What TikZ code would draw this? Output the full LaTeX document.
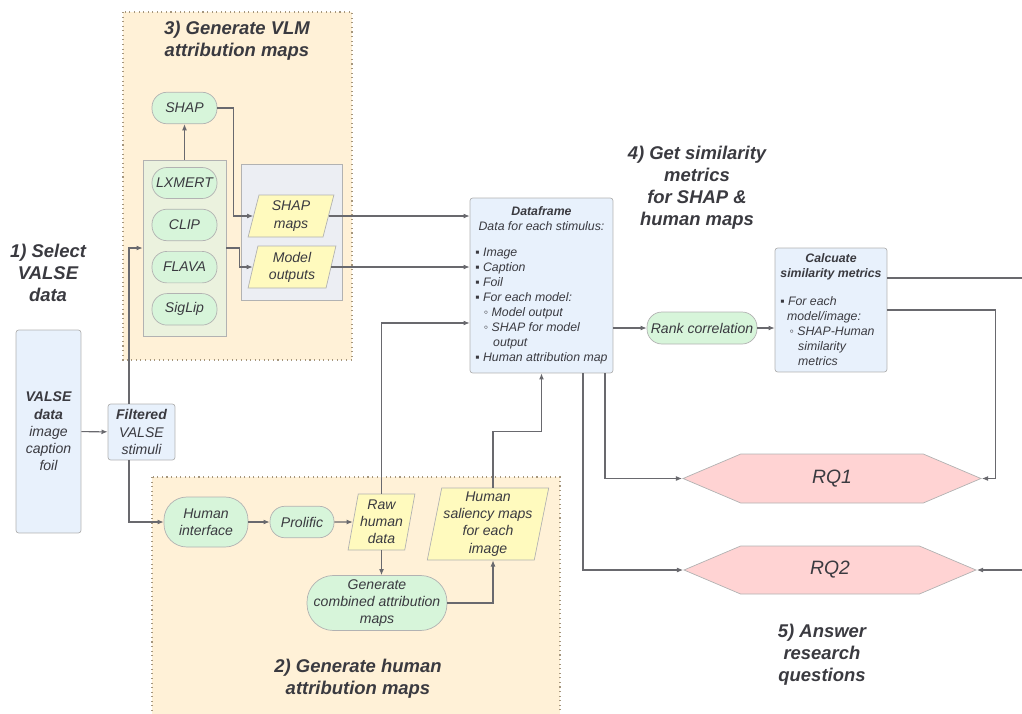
\documentclass[tikz,border=0pt]{standalone}
\usepackage{fontspec}
\setmainfont{Liberation Sans}
\usepackage{tikz}
\usetikzlibrary{positioning}
\usetikzlibrary{arrows.meta}
\usetikzlibrary{shapes.geometric,shapes.symbols}
\usepackage{xcolor}

\definecolor{ink}{RGB}{58,58,64}
\definecolor{lnc}{RGB}{105,105,110}
\definecolor{zonefill}{RGB}{255,241,215}
\definecolor{zoneline}{RGB}{165,150,125}
\definecolor{pillfill}{RGB}{215,245,218}
\definecolor{grpfill}{RGB}{235,242,222}
\definecolor{grayfill}{RGB}{236,238,243}
\definecolor{parafill}{RGB}{255,250,190}
\definecolor{boxfill}{RGB}{232,241,252}
\definecolor{rqfill}{RGB}{255,211,211}

\tikzset{
	zone/.style={draw=zoneline, dotted, fill=zonefill, line width=0.6pt},
	title/.style={align=center, text=ink, inner sep=0pt, font=\fontsize{10.5}{12.5}\selectfont\bfseries\itshape},
	pill/.style={rectangle, rounded corners=8.5pt, draw=gray!60, fill=pillfill, text=ink, align=center, inner sep=1pt,
		minimum width=1.3cm, minimum height=0.63cm, font=\fontsize{8}{9.8}\selectfont\itshape},
	para/.style={trapezium, trapezium left angle=78, trapezium right angle=102, trapezium stretches=true,
		draw=gray!60, fill=parafill, text=ink, align=center, inner sep=1pt, font=\fontsize{8}{9.8}\selectfont\itshape},
	box/.style={rectangle, rounded corners=1.5pt, draw=gray!60, fill=boxfill, text=ink, align=center, inner sep=1pt,
		font=\fontsize{8}{9.8}\selectfont\itshape},
	txt/.style={text=ink, inner sep=0pt, font=\fontsize{7}{8.5}\selectfont\itshape},
	hexa/.style={signal, signal to=west and east, signal pointer angle=46, draw=gray!60, fill=rqfill, text=ink,
		font=\fontsize{11}{13}\selectfont\itshape},
	arr/.style={draw=lnc, line width=0.6pt, -{Latex[length=3.5pt,width=2.8pt]}},
	ln/.style={draw=lnc, line width=0.6pt}
}

\begin{document}
\begin{tikzpicture}[x=0.02cm, y=-0.02cm]
	\useasboundingbox (0,0) rectangle (1022,714);

	% zones
	\draw[zone] (123,12) rectangle (352,360);
	\draw[zone] (152,477) rectangle (560,730);

	\node[title](t_vlm) at (237,41) {3) Generate VLM\\attribution maps};
	\node[title](t_sel) at (48,273) {1) Select\\VALSE\\data};
	\node[title](t_hum) at (358,679) {2) Generate human\\attribution maps};
	\node[title](t_sim) at (697,188) {4) Get similarity\\metrics\\for SHAP \&\\human maps};
	\node[title](t_ans) at (822,655) {5) Answer\\research\\questions};

	% 1) select data
	\node[box, minimum width=1.3cm, minimum height=4.06cm](valse) at (48.5,431.5) {\textbf{VALSE}\\\textbf{data}\\image\\caption\\foil};
	\node[box, minimum width=1.34cm, minimum height=1.12cm](filt) at (141.5,432) {\textbf{Filtered}\\VALSE\\stimuli};

	\draw[arr] (valse) -- (filt);

	% 3) VLM maps
	\node[rectangle, draw=gray!60, fill=grpfill, minimum width=1.66cm, minimum height=3.52cm](grp) at (184.5,248) {};
	\node[pill, minimum height=0.62cm](m_lx) at (184.5,183) {LXMERT};
	\node[pill, below=0.2cm of m_lx](m_clip) {CLIP};
	\node[pill, below=0.2cm of m_clip](m_flava) {FLAVA};
	\node[pill, below=0.2cm of m_flava](m_sig) {SigLip};
	\node[pill](shap) at (184.5,108) {SHAP};

	\node[rectangle, draw=gray!60, fill=grayfill, minimum width=2.02cm, minimum height=2.72cm](mbox) at (291.5,232) {};
	\node[para, minimum width=1.72cm, minimum height=0.84cm](smap) at (291,216) {SHAP\\maps};
	\node[para, minimum width=1.76cm, minimum height=0.84cm](mout) at (292,267) {Model\\outputs};

	\draw[arr] ([xshift=-0.25cm]filt.north) |- (grp.west);
	\draw[arr] (grp.north) -- (shap.south);
	\draw[arr] (shap.east) -- ++(16,0) |- (smap.west);
	\draw[arr] (grp.east) -- ++(13,0) |- (mout.west);

	% 2) human maps
	\node[pill, rounded corners=13pt, minimum width=1.68cm, minimum height=1.0cm](hif) at (206,522) {Human\\interface};
	\node[pill, minimum width=1.28cm](prol) at (302,522) {Prolific};
	\node[para, minimum width=1.26cm, minimum height=1.12cm](raw) at (381.5,522) {Raw\\human\\data};
	\node[para, minimum width=2.32cm, minimum height=1.44cm](sal) at (488,524) {Human\\saliency maps\\for each\\image};
	\node[pill, rounded corners=15pt, minimum width=2.8cm, minimum height=1.1cm](gen) at (377,603) {Generate\\combined attribution\\maps};

	\draw[arr] ([xshift=-0.25cm]filt.south) |- (hif.west);
	\draw[arr] (hif) -- (prol);
	\draw[arr] (prol) -- (raw);
	\draw[arr] (raw.south) -- (raw.south |- gen.north);
	\draw[arr] (gen.east) -| ([xshift=0.1cm]sal.south);

	% 4) dataframe and metrics
	\node[box, minimum width=2.86cm, minimum height=3.5cm](df) at (541.5,285.5) {};
	\node[txt, align=center, below=0.17cm of df.north](df_head) {\textbf{Dataframe}\\Data for each stimulus:};
	\node[txt, align=left, anchor=north west](df_list) at (475,248) {▪ Image\\▪ Caption\\▪ Foil\\▪ For each model:\\
		\hspace*{0.7em}◦ Model output\\\hspace*{0.7em}◦ SHAP for model\\\hspace*{1.45em}output\\▪ Human attribution map};

	\draw[arr] (smap.east) -- (smap.east -| df.west);
	\draw[arr] (mout.east) -- (mout.east -| df.west);
	\draw[arr] (raw.north) |- ([yshift=-0.75cm]df.west);
	\draw[arr] ([xshift=0.1cm]sal.north) -- ++(0,-56) -| (df.south);

	\node[pill, minimum width=2.2cm, minimum height=0.64cm](rank) at (702,328) {Rank correlation};
	\node[box, minimum width=2.24cm, minimum height=2.48cm](calc) at (831,310) {};
	\node[txt, align=center, below=0.12cm of calc.north](calc_head) {\textbf{Calcuate}\\\textbf{similarity metrics}};
	\node[txt, align=left, anchor=north west](calc_list) at (780,296) {▪ For each\\\hspace*{0.55em}model/image:\\
		\hspace*{0.75em}◦ SHAP-Human\\\hspace*{1.45em}similarity\\\hspace*{1.45em}metrics};

	\draw[arr] (rank.west -| df.east) -- (rank.west);
	\draw[arr] (rank.east) -- (rank.east -| calc.west);

	% 5) research questions
	\node[hexa, minimum width=5.96cm, minimum height=0.98cm](rq1) at (832,478.5) {RQ1};
	\node[hexa, minimum width=5.84cm, minimum height=0.96cm](rq2) at (830,570) {RQ2};

	\coordinate (r_out) at (1022,278);
	\coordinate (r_in) at (1022,570);

	\draw[ln] (calc.east |- r_out) -- (r_out);
	\draw[arr] (calc.east) -| ([xshift=0.28cm]rq1.east) -- (rq1.east);
	\draw[arr] ([xshift=1.27cm]df.south) |- (rq1.west);
	\draw[arr] ([xshift=0.83cm]df.south) |- (rq2.west);
	\draw[arr] (r_in) -- (rq2.east);
\end{tikzpicture}
\end{document}
